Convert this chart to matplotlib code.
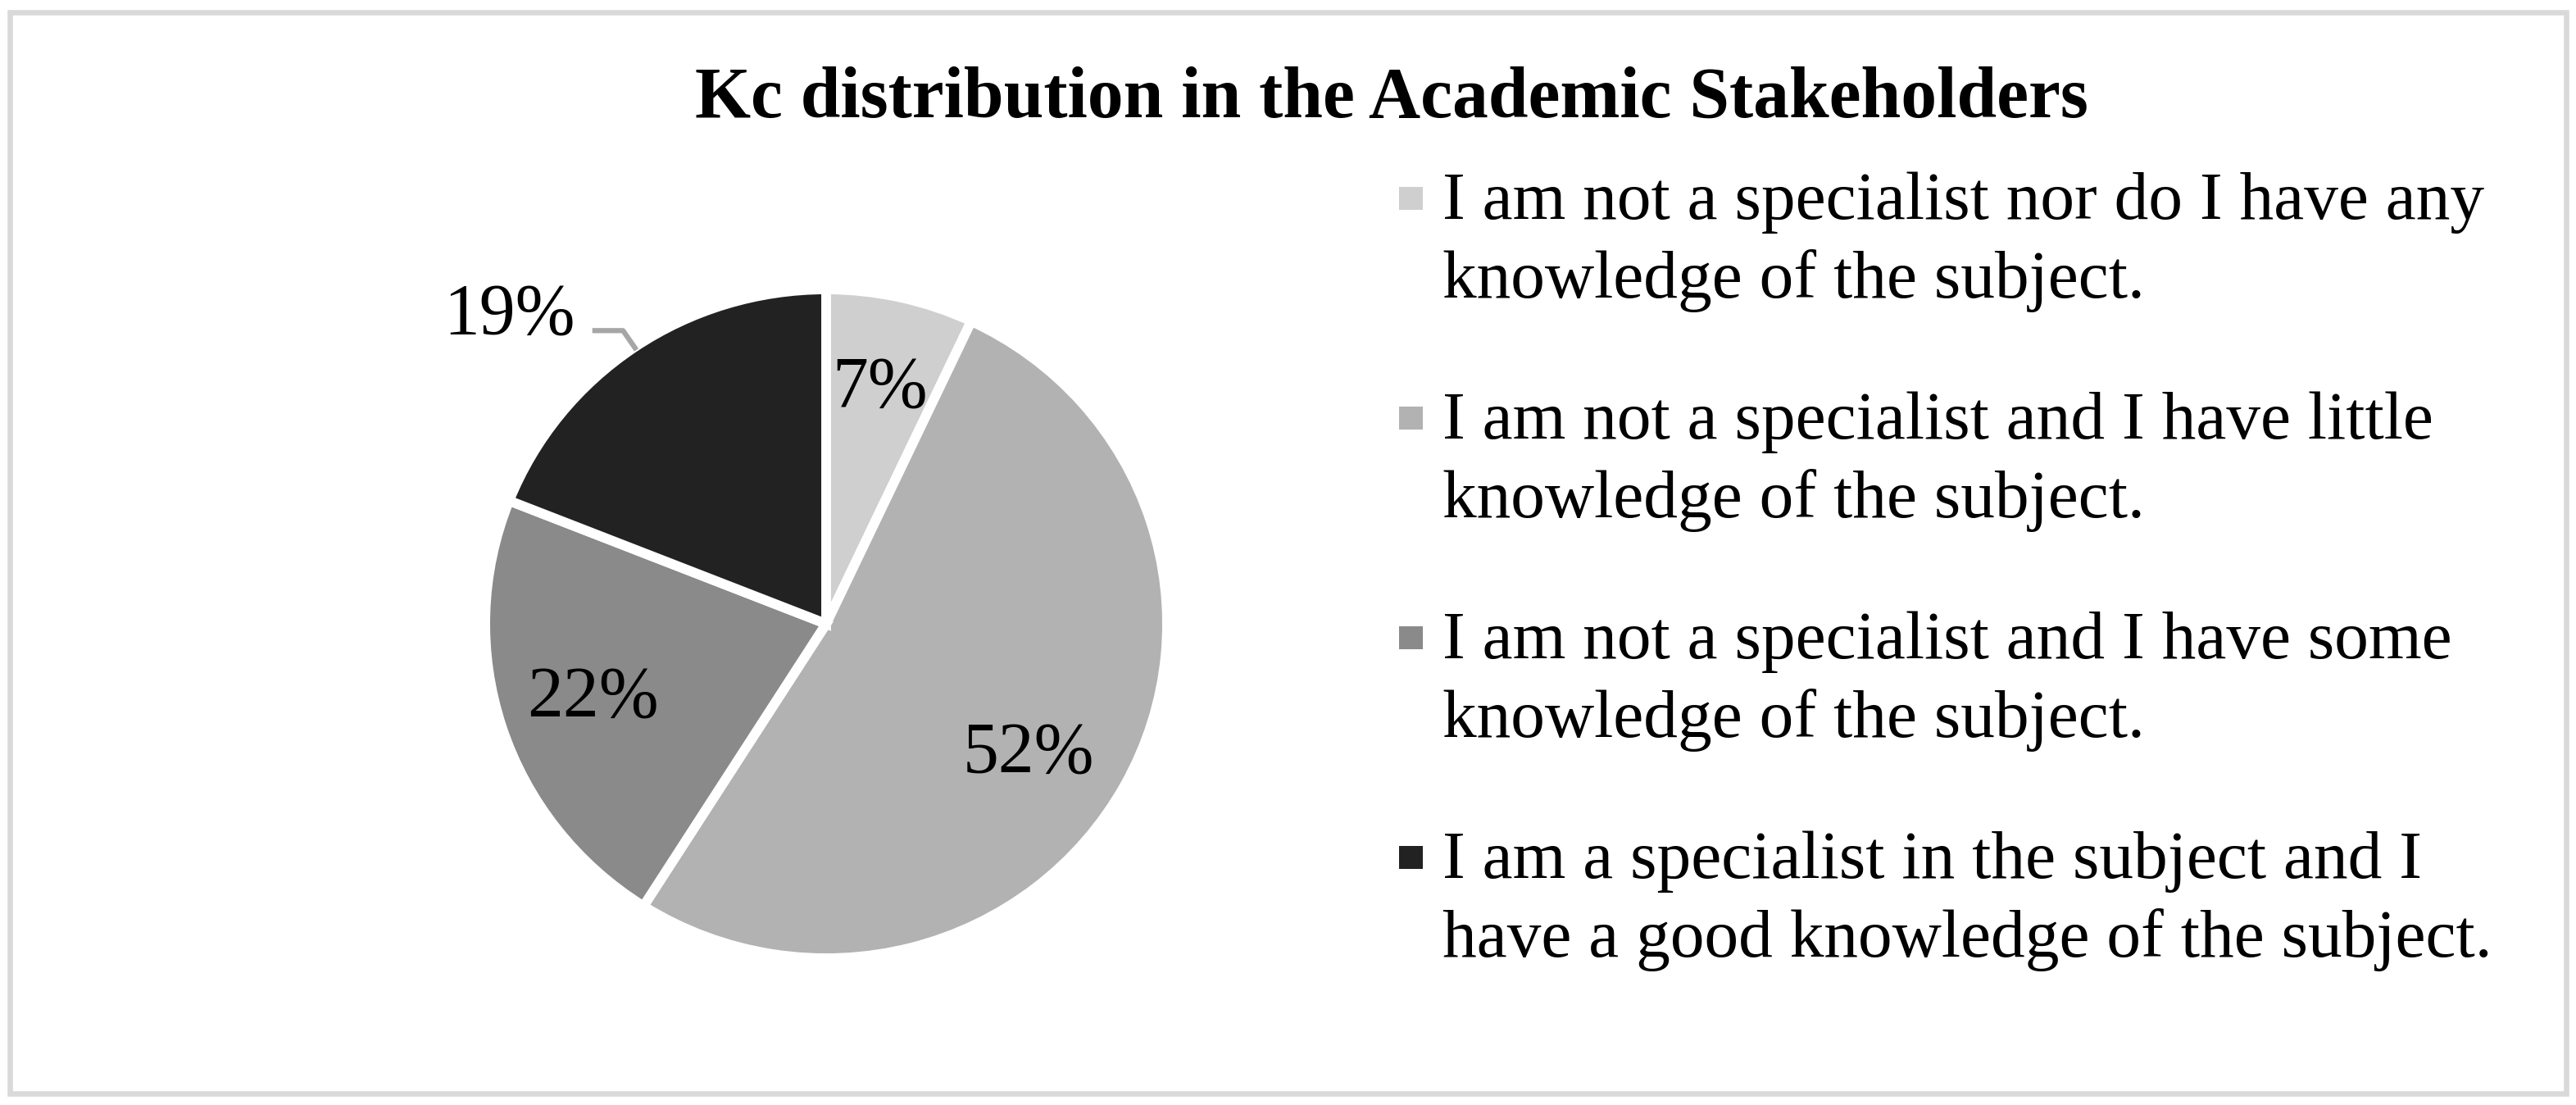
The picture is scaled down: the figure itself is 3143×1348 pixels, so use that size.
import numpy as np
import matplotlib
matplotlib.use("Agg")
import matplotlib.pyplot as plt
from matplotlib.patches import Rectangle

plt.rcParams['font.family'] = ['Liberation Serif', 'DejaVu Serif']

title = "Kc distribution in the Academic Stakeholders"
categories = [
    "I am not a specialist nor do I have any\nknowledge of the subject.",
    "I am not a specialist and I have little\nknowledge of the subject.",
    "I am not a specialist and I have some\nknowledge of the subject.",
    "I am a specialist in the subject and I\nhave a good knowledge of the subject.",
]
shares = [7, 52, 22, 19]
colors = ["#cfcfcf", "#b2b2b2", "#8a8a8a", "#222222"]

W, H = 3143, 1348
fig = plt.figure(figsize=(W / 100, H / 100), dpi=100)

# pie axes, placed in pixels
cx, cy = 1008, H - 761
hr, vr = 416, 408
span = 1.6
aw, ah = 2 * span * hr, 2 * span * vr
ax = fig.add_axes([(cx - aw / 2) / W, (cy - ah / 2) / H, aw / W, ah / H])

wedges, texts, autotexts = ax.pie(
    shares, colors=colors, startangle=90, counterclock=False,
    autopct=lambda p: f"{p:.0f}%", pctdistance=0.72,
    wedgeprops=dict(edgecolor="white", linewidth=8.6),
    textprops=dict(fontsize=63, color="black"))
ax.set_aspect('auto')
ax.set_xlim(-span, span)
ax.set_ylim(-span, span)
ax.axis('off')

# the 52% label sits a little lower than the wedge middle
w = wedges[1]
a = np.deg2rad((w.theta1 + w.theta2) / 2 - 4.5)
autotexts[1].set_position((0.71 * np.cos(a), 0.71 * np.sin(a)))

# 19% label sits outside with a leader line
w = wedges[3]
mid = np.deg2rad((w.theta1 + w.theta2) / 2)
p_end = (0.99 * np.cos(mid), 0.99 * np.sin(mid))
p_elb = (1.06 * np.cos(mid), 1.06 * np.sin(mid))
p_start = (p_elb[0] - 0.09, p_elb[1])
ax.plot([p_start[0], p_elb[0], p_end[0]], [p_start[1], p_elb[1], p_end[1]],
        color="#a6a6a6", lw=4.5, solid_capstyle='butt', clip_on=False)
autotexts[3].set_position((p_start[0] - 0.05, p_elb[1] - 0.007))
autotexts[3].set_ha('right')
autotexts[3].set_va('baseline')

# title
fig.text(1698 / W, 1 - 143 / H, title, ha='center', va='baseline',
         fontsize=63, fontweight='bold')

# legend drawn by hand: square + two text lines per entry
for i, (lab, col) in enumerate(zip(categories, colors)):
    base = 267 + 268 * i
    fig.add_artist(Rectangle((1707 / W, 1 - (base - 11) / H), 29 / W, 28 / H,
                             transform=fig.transFigure, facecolor=col,
                             edgecolor='none'))
    for k, line in enumerate(lab.split("\n")):
        fig.text(1760 / W, 1 - (base + 96 * k) / H, line, ha='left',
                 va='baseline', fontsize=60)

# light grey frame round the chart
fig.add_artist(Rectangle((11.5 / W, 14.5 / H), (3131 - 11.5) / W,
                         (1333.5 - 14.5) / H, transform=fig.transFigure,
                         fill=False, edgecolor="#d9d9d9", lw=4.7))

fig.savefig("out.png", dpi=100, facecolor="white")
